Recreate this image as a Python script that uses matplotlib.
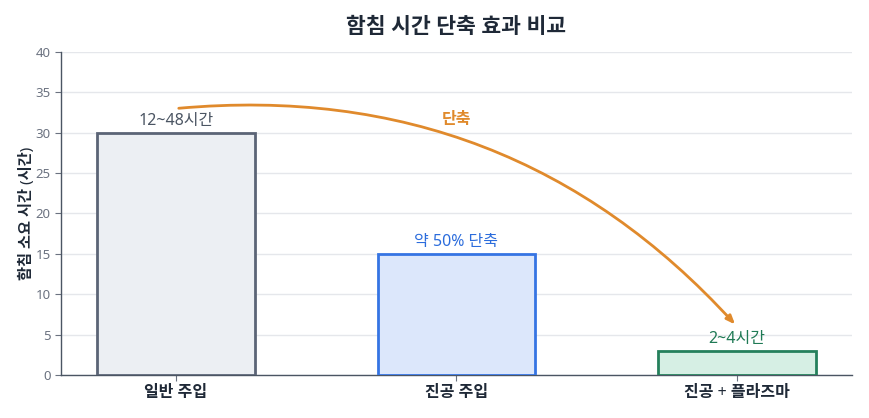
import matplotlib
matplotlib.use("Agg")
import matplotlib.pyplot as plt

plt.rcParams['font.family'] = ['Noto Sans', 'Noto Sans CJK KR', 'DejaVu Sans']

categories = ["일반 주입", "진공 주입", "진공 + 플라즈마"]
values = [30, 15, 3]
bar_labels = ["12~48시간", "약 50% 단축", "2~4시간"]
face_colors = ["#eceff3", "#dce7fb", "#d6efe4"]
edge_colors = ["#5b6476", "#3574e3", "#25805c"]
label_colors = ["#4b5563", "#2b6cdc", "#1f7a55"]
yticks = [0, 5, 10, 15, 20, 25, 30, 35, 40]
arrow_start = (0, 33)
arrow_end = (2, 6)
arrow_text = "단축"
arrow_text_pos = (1.0, 31.6)

fig = plt.figure(figsize=(8.70, 4.18), dpi=100)
ax = fig.add_axes([61/870, 1 - 375/418, (852-61)/870, (375-52)/418])

x = list(range(len(categories)))
ax.bar(x, values, width=0.56, color=face_colors, edgecolor=edge_colors,
       linewidth=2, zorder=3)

for xi, v, lab, c in zip(x, values, bar_labels, label_colors):
    ax.annotate(lab, (xi, v), xytext=(0, 3), textcoords="offset points",
                ha="center", va="bottom", fontsize=11.5, color=c, zorder=4)

ax.annotate("", xy=arrow_end, xytext=arrow_start,
            arrowprops=dict(arrowstyle="-|>,head_length=0.5,head_width=0.2",
                            color="#e08a2c", lw=2,
                            connectionstyle="arc3,rad=-0.25"), zorder=5)
ax.text(*arrow_text_pos, arrow_text, ha="center", va="center", fontsize=11.5,
        fontweight="bold", color="#e08a2c", zorder=5)

ax.set_xlim(-0.41, 2.41)
ax.set_ylim(0, 40)
ax.set_yticks(yticks)
ax.set_xticks(x)
ax.set_xticklabels(categories, fontsize=11.5, color="#1f2937", fontweight="bold")
ax.tick_params(axis="y", labelsize=9.5, colors="#6b7280", length=4)
ax.tick_params(axis="x", length=4, color="#6b7280")
for lbl in ax.get_yticklabels():
    lbl.set_color("#6b7280")
ax.grid(axis="y", color="#e5e7eb", linewidth=1, zorder=0)
ax.set_axisbelow(True)
for s in ["top", "right"]:
    ax.spines[s].set_visible(False)
for s in ["left", "bottom"]:
    ax.spines[s].set_color("#4b5563")
    ax.spines[s].set_linewidth(1)

ax.set_ylabel("함침 소요 시간 (시간)", fontsize=11, fontweight="bold", color="#1f2937", labelpad=0)
ax.set_title("함침 시간 단축 효과 비교", fontsize=15.5, fontweight="bold", color="#1f2937", pad=14)

fig.savefig("out.png", dpi=100)
